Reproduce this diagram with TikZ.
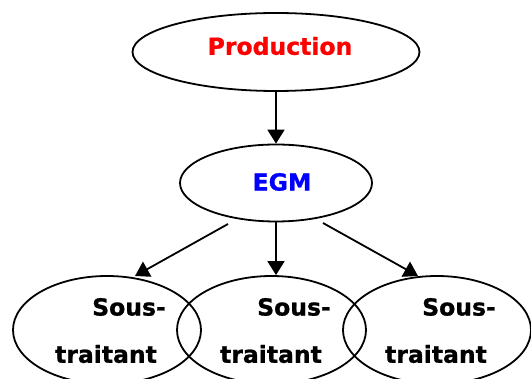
\documentclass[tikz,border=0pt]{standalone}
\usepackage{fontspec}
\setmainfont{DejaVu Sans}[BoldFeatures={FakeBold=1}]
\usetikzlibrary{shapes.geometric,arrows.meta,calc}
\definecolor{prodred}{RGB}{255,0,0}
\definecolor{egmblue}{RGB}{0,0,255}
\tikzset{
  oval/.style={ellipse, draw=black, line width=1.8pt, inner sep=0pt},
  lbl/.style={font=\fontsize{23.5}{28}\selectfont\bfseries, inner sep=0pt, anchor=center},
  arr/.style={line width=1.8pt, -{Triangle[length=14pt,width=17pt]}},
}
\begin{document}
\begin{tikzpicture}[x=1pt,y=-1pt]
  \useasboundingbox (0,0) rectangle (531,379);

  % top level
  \node[oval, minimum width=287pt, minimum height=78pt] (prod) at (276,52) {};
  \node[lbl, text=prodred] (prodtxt) at (280,46) {Production};

  % middle level
  \node[oval, minimum width=192pt, minimum height=77pt] (egm) at (276,183) {};
  \node[lbl, text=egmblue] (egmtxt) at (282,182) {EGM};

  % subcontractors
  \node[oval, minimum width=188pt, minimum height=108pt] (s1) at (107,330) {};
  \node[oval, minimum width=189pt, minimum height=108pt] (s2) at (271.5,330) {};
  \node[oval, minimum width=188pt, minimum height=108pt] (s3) at (437,330) {};

  \node[lbl] (s1a) at (129,307) {Sous-};
  \node[lbl] (s1b) at (106,354) {traitant};
  \node[lbl] (s2a) at (294,307) {Sous-};
  \node[lbl] (s2b) at (271,354) {traitant};
  \node[lbl] (s3a) at (459,307) {Sous-};
  \node[lbl] (s3b) at (436,354) {traitant};

  % connectors
  \draw[arr] (prod.south) -- (egm.north);
  \draw[arr] ($(egm.center)+(-48,41)$) -- ($(s1.center)+(28,-54)$);
  \draw[arr] (egm.south) -- (egm.south |- s2.north);
  \draw[arr] ($(egm.center)+(47,40)$) -- ($(s3.center)+(-19,-54)$);
\end{tikzpicture}
\end{document}
